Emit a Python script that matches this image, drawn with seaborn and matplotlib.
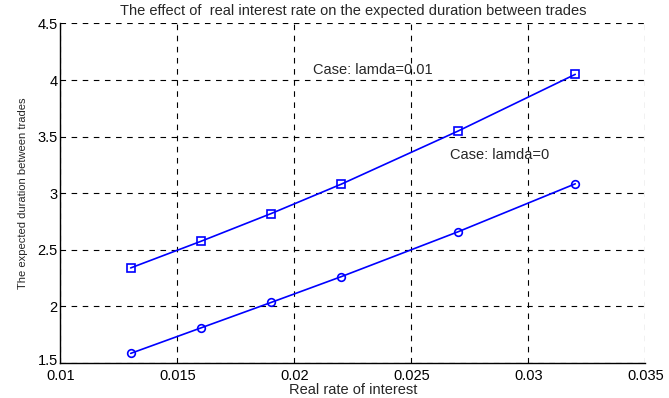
import matplotlib
matplotlib.use("Agg")
import matplotlib.pyplot as plt
import matplotlib.transforms as mtransforms
import seaborn as sns
import pandas as pd

# Real rate of interest and expected duration between trades
rates = [0.013, 0.016, 0.019, 0.022, 0.027, 0.032]
dur_lamda_001 = [2.34, 2.575, 2.82, 3.08, 3.55, 4.05]
dur_lamda_0 = [1.585, 1.81, 2.035, 2.263, 2.66, 3.083]

x_ticks = [0.01, 0.015, 0.02, 0.025, 0.03, 0.035]
x_tick_labels = ["0.01", "0.015", "0.02", "0.025", "0.03", "0.035"]
y_ticks = [1.5, 2, 2.5, 3, 3.5, 4, 4.5]
y_tick_labels = ["1.5", "2", "2.5", "3", "3.5", "4", "4.5"]

df = pd.DataFrame({
    "rate": rates + rates,
    "duration": dur_lamda_001 + dur_lamda_0,
    "case": ["lamda=0.01"] * len(rates) + ["lamda=0"] * len(rates),
})

sns.set_style("white")
plt.rcParams["font.family"] = ["Liberation Sans", "DejaVu Sans"]

fig = plt.figure(figsize=(6.69, 3.98), dpi=100)
ax = fig.add_axes([0.0904, 0.0879, 0.8744, 0.8533])

sns.lineplot(data=df, x="rate", y="duration", hue="case", style="case",
             markers={"lamda=0.01": "s", "lamda=0": "o"}, dashes=False,
             palette={"lamda=0.01": "#0000ff", "lamda=0": "#0000ff"},
             markerfacecolor="none", markeredgecolor="#0000ff",
             markeredgewidth=1.2, markersize=5.5, linewidth=1.2,
             legend=False, ax=ax)

ax.set_xlim(0.01, 0.035)
ax.set_ylim(1.5, 4.5)
ax.set_xticks(x_ticks)
ax.set_xticklabels(x_tick_labels)
ax.set_yticks(y_ticks)
ax.set_yticklabels(y_tick_labels)
ax.tick_params(direction="in", length=4, width=0.8, labelsize=10.5,
               colors="black")
ax.tick_params(axis="y", pad=2)
ax.tick_params(axis="x", pad=4)

# nudge the lowest y tick label up so it clears the x tick labels
lowest = ax.yaxis.get_major_ticks()[0].label1
lowest.set_transform(lowest.get_transform()
                     + mtransforms.ScaledTranslation(0, 2.5 / 72, fig.dpi_scale_trans))

ax.grid(True, color="black", linestyle=(0, (5, 5)), linewidth=0.8)
for side in ("top", "right"):
    ax.spines[side].set_visible(False)
for side in ("left", "bottom"):
    ax.spines[side].set_color("black")
    ax.spines[side].set_linewidth(1.0)

ax.set_xlabel("Real rate of interest", fontsize=10.5, labelpad=0)
ax.set_ylabel("The expected duration between trades", fontsize=8, labelpad=7)
ax.set_title("The effect of  real interest rate on the expected duration between trades",
             fontsize=10.5, pad=6)

ax.text(0.02079, 4.089, "Case: lamda=0.01", fontsize=10.5, va="center")
ax.text(0.02664, 3.338, "Case: lamda=0", fontsize=10.5, va="center")

fig.savefig("out.png", dpi=100)
